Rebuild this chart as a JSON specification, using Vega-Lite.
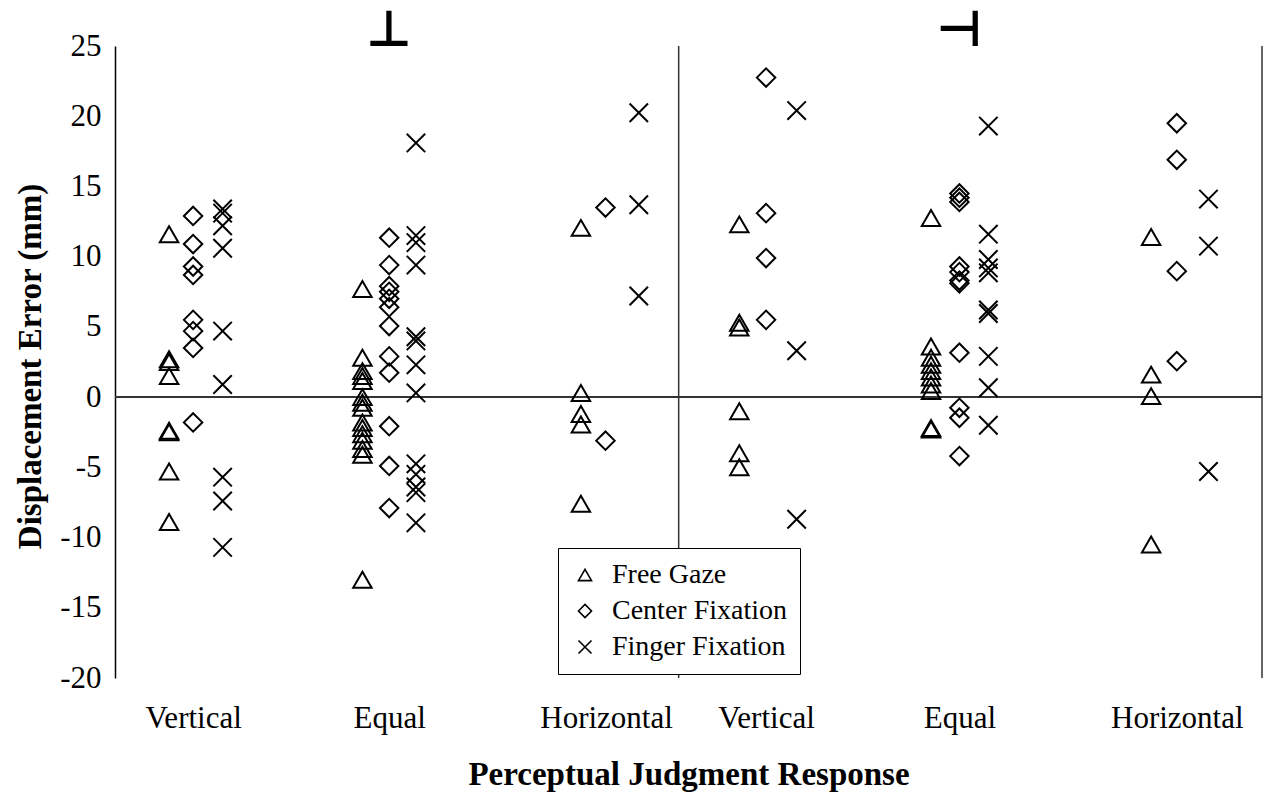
{
  "$schema": "https://vega.github.io/schema/vega-lite/v6.json",
  "width": 1147,
  "height": 632,
  "autosize": {"type": "none"},
  "padding": {"left": 115, "top": 46, "right": 2, "bottom": 118},
  "background": "white",
  "config": {
    "font": "Liberation Serif",
    "view": {"stroke": null},
    "legend": {
      "orient": "none",
      "legendX": 443,
      "legendY": 502,
      "strokeColor": "black",
      "fillColor": "white",
      "padding": 13,
      "labelFont": "Liberation Serif",
      "labelFontSize": 28,
      "labelColor": "black",
      "labelOffset": 13,
      "labelLimit": 0,
      "symbolSize": 170,
      "symbolStrokeWidth": 1.6,
      "symbolStrokeColor": "black",
      "rowPadding": 8
    }
  },
  "datasets": {
    "points": [
      {"gaze": "Free Gaze", "x": 0.99, "error": 11.6},
      {"gaze": "Free Gaze", "x": 0.99, "error": 2.7},
      {"gaze": "Free Gaze", "x": 0.99, "error": 2.5},
      {"gaze": "Free Gaze", "x": 0.99, "error": 1.5},
      {"gaze": "Free Gaze", "x": 0.99, "error": -2.4},
      {"gaze": "Free Gaze", "x": 0.99, "error": -2.5},
      {"gaze": "Free Gaze", "x": 0.99, "error": -5.3},
      {"gaze": "Free Gaze", "x": 0.99, "error": -8.9},
      {"gaze": "Free Gaze", "x": 4.53, "error": 7.7},
      {"gaze": "Free Gaze", "x": 4.53, "error": 2.8},
      {"gaze": "Free Gaze", "x": 4.53, "error": 1.85},
      {"gaze": "Free Gaze", "x": 4.53, "error": 1.5},
      {"gaze": "Free Gaze", "x": 4.53, "error": 1.15},
      {"gaze": "Free Gaze", "x": 4.53, "error": 0.0},
      {"gaze": "Free Gaze", "x": 4.53, "error": -0.4},
      {"gaze": "Free Gaze", "x": 4.53, "error": -0.75},
      {"gaze": "Free Gaze", "x": 4.53, "error": -1.8},
      {"gaze": "Free Gaze", "x": 4.53, "error": -2.2},
      {"gaze": "Free Gaze", "x": 4.53, "error": -2.65},
      {"gaze": "Free Gaze", "x": 4.53, "error": -3.1},
      {"gaze": "Free Gaze", "x": 4.53, "error": -3.7},
      {"gaze": "Free Gaze", "x": 4.53, "error": -4.1},
      {"gaze": "Free Gaze", "x": 4.53, "error": -13.0},
      {"gaze": "Free Gaze", "x": 8.53, "error": 12.05},
      {"gaze": "Free Gaze", "x": 8.53, "error": 0.3},
      {"gaze": "Free Gaze", "x": 8.53, "error": -1.2},
      {"gaze": "Free Gaze", "x": 8.53, "error": -1.95},
      {"gaze": "Free Gaze", "x": 8.53, "error": -7.6},
      {"gaze": "Free Gaze", "x": 11.43, "error": 12.3},
      {"gaze": "Free Gaze", "x": 11.43, "error": 5.3},
      {"gaze": "Free Gaze", "x": 11.43, "error": 4.95},
      {"gaze": "Free Gaze", "x": 11.43, "error": -1.0},
      {"gaze": "Free Gaze", "x": 11.43, "error": -4.0},
      {"gaze": "Free Gaze", "x": 11.43, "error": -5.0},
      {"gaze": "Free Gaze", "x": 14.94, "error": 12.75},
      {"gaze": "Free Gaze", "x": 14.94, "error": 3.6},
      {"gaze": "Free Gaze", "x": 14.94, "error": 2.8},
      {"gaze": "Free Gaze", "x": 14.94, "error": 2.3},
      {"gaze": "Free Gaze", "x": 14.94, "error": 1.85},
      {"gaze": "Free Gaze", "x": 14.94, "error": 1.4},
      {"gaze": "Free Gaze", "x": 14.94, "error": 0.9},
      {"gaze": "Free Gaze", "x": 14.94, "error": 0.43},
      {"gaze": "Free Gaze", "x": 14.94, "error": -2.2},
      {"gaze": "Free Gaze", "x": 14.94, "error": -2.3},
      {"gaze": "Free Gaze", "x": 18.97, "error": 11.4},
      {"gaze": "Free Gaze", "x": 18.97, "error": 1.6},
      {"gaze": "Free Gaze", "x": 18.97, "error": 0.07},
      {"gaze": "Free Gaze", "x": 18.97, "error": -10.5},

      {"gaze": "Center Fixation", "x": 1.43, "error": 12.9},
      {"gaze": "Center Fixation", "x": 1.43, "error": 10.9},
      {"gaze": "Center Fixation", "x": 1.43, "error": 9.3},
      {"gaze": "Center Fixation", "x": 1.43, "error": 8.7},
      {"gaze": "Center Fixation", "x": 1.43, "error": 5.5},
      {"gaze": "Center Fixation", "x": 1.43, "error": 4.7},
      {"gaze": "Center Fixation", "x": 1.43, "error": 3.5},
      {"gaze": "Center Fixation", "x": 1.43, "error": -1.8},
      {"gaze": "Center Fixation", "x": 5.02, "error": 11.35},
      {"gaze": "Center Fixation", "x": 5.02, "error": 9.4},
      {"gaze": "Center Fixation", "x": 5.02, "error": 7.9},
      {"gaze": "Center Fixation", "x": 5.02, "error": 7.5},
      {"gaze": "Center Fixation", "x": 5.02, "error": 7.0},
      {"gaze": "Center Fixation", "x": 5.02, "error": 6.4},
      {"gaze": "Center Fixation", "x": 5.02, "error": 5.06},
      {"gaze": "Center Fixation", "x": 5.02, "error": 2.9},
      {"gaze": "Center Fixation", "x": 5.02, "error": 1.74},
      {"gaze": "Center Fixation", "x": 5.02, "error": -2.07},
      {"gaze": "Center Fixation", "x": 5.02, "error": -4.9},
      {"gaze": "Center Fixation", "x": 5.02, "error": -7.9},
      {"gaze": "Center Fixation", "x": 8.98, "error": 13.5},
      {"gaze": "Center Fixation", "x": 8.98, "error": -3.1},
      {"gaze": "Center Fixation", "x": 11.92, "error": 22.75},
      {"gaze": "Center Fixation", "x": 11.92, "error": 13.1},
      {"gaze": "Center Fixation", "x": 11.92, "error": 9.9},
      {"gaze": "Center Fixation", "x": 11.92, "error": 5.5},
      {"gaze": "Center Fixation", "x": 15.46, "error": 14.5},
      {"gaze": "Center Fixation", "x": 15.46, "error": 14.2},
      {"gaze": "Center Fixation", "x": 15.46, "error": 13.9},
      {"gaze": "Center Fixation", "x": 15.46, "error": 9.3},
      {"gaze": "Center Fixation", "x": 15.46, "error": 8.9},
      {"gaze": "Center Fixation", "x": 15.46, "error": 8.3},
      {"gaze": "Center Fixation", "x": 15.46, "error": 8.1},
      {"gaze": "Center Fixation", "x": 15.46, "error": 3.16},
      {"gaze": "Center Fixation", "x": 15.46, "error": -0.76},
      {"gaze": "Center Fixation", "x": 15.46, "error": -1.47},
      {"gaze": "Center Fixation", "x": 15.46, "error": -4.2},
      {"gaze": "Center Fixation", "x": 19.44, "error": 19.5},
      {"gaze": "Center Fixation", "x": 19.44, "error": 16.9},
      {"gaze": "Center Fixation", "x": 19.44, "error": 8.97},
      {"gaze": "Center Fixation", "x": 19.44, "error": 2.56},

      {"gaze": "Finger Fixation", "x": 1.97, "error": 13.4},
      {"gaze": "Finger Fixation", "x": 1.97, "error": 13.1},
      {"gaze": "Finger Fixation", "x": 1.97, "error": 12.2},
      {"gaze": "Finger Fixation", "x": 1.97, "error": 10.6},
      {"gaze": "Finger Fixation", "x": 1.97, "error": 4.7},
      {"gaze": "Finger Fixation", "x": 1.97, "error": 0.9},
      {"gaze": "Finger Fixation", "x": 1.97, "error": -5.7},
      {"gaze": "Finger Fixation", "x": 1.97, "error": -7.4},
      {"gaze": "Finger Fixation", "x": 1.97, "error": -10.7},
      {"gaze": "Finger Fixation", "x": 5.51, "error": 18.1},
      {"gaze": "Finger Fixation", "x": 5.51, "error": 11.5},
      {"gaze": "Finger Fixation", "x": 5.51, "error": 11.0},
      {"gaze": "Finger Fixation", "x": 5.51, "error": 9.4},
      {"gaze": "Finger Fixation", "x": 5.51, "error": 4.3},
      {"gaze": "Finger Fixation", "x": 5.51, "error": 4.0},
      {"gaze": "Finger Fixation", "x": 5.51, "error": 2.3},
      {"gaze": "Finger Fixation", "x": 5.51, "error": 0.3},
      {"gaze": "Finger Fixation", "x": 5.51, "error": -4.75},
      {"gaze": "Finger Fixation", "x": 5.51, "error": -5.5},
      {"gaze": "Finger Fixation", "x": 5.51, "error": -6.4},
      {"gaze": "Finger Fixation", "x": 5.51, "error": -6.8},
      {"gaze": "Finger Fixation", "x": 5.51, "error": -8.95},
      {"gaze": "Finger Fixation", "x": 9.59, "error": 20.25},
      {"gaze": "Finger Fixation", "x": 9.59, "error": 13.7},
      {"gaze": "Finger Fixation", "x": 9.59, "error": 7.2},
      {"gaze": "Finger Fixation", "x": 12.48, "error": 20.4},
      {"gaze": "Finger Fixation", "x": 12.48, "error": 3.3},
      {"gaze": "Finger Fixation", "x": 12.48, "error": -8.7},
      {"gaze": "Finger Fixation", "x": 15.99, "error": 19.3},
      {"gaze": "Finger Fixation", "x": 15.99, "error": 11.6},
      {"gaze": "Finger Fixation", "x": 15.99, "error": 9.8},
      {"gaze": "Finger Fixation", "x": 15.99, "error": 9.2},
      {"gaze": "Finger Fixation", "x": 15.99, "error": 8.85},
      {"gaze": "Finger Fixation", "x": 15.99, "error": 6.2},
      {"gaze": "Finger Fixation", "x": 15.99, "error": 5.95},
      {"gaze": "Finger Fixation", "x": 15.99, "error": 2.9},
      {"gaze": "Finger Fixation", "x": 15.99, "error": 0.67},
      {"gaze": "Finger Fixation", "x": 15.99, "error": -2.0},
      {"gaze": "Finger Fixation", "x": 20.02, "error": 14.1},
      {"gaze": "Finger Fixation", "x": 20.02, "error": 10.75},
      {"gaze": "Finger Fixation", "x": 20.02, "error": -5.3}
    ],
    "markers": [
      {"x": 5.02, "error": 25, "symbol": "⊥"},
      {"x": 15.46, "error": 25, "symbol": "⊣"}
    ],
    "zero": [{"error": 0}],
    "vlines": [{"x": 10.32}, {"x": 21}]
  },
  "layer": [
    {
      "data": {"name": "zero"},
      "mark": {"type": "rule", "color": "#333333", "strokeWidth": 2},
      "encoding": {
        "y": {"field": "error", "type": "quantitative", "scale": {"domain": [-20, 25], "nice": false}}
      }
    },
    {
      "data": {"name": "vlines"},
      "mark": {"type": "rule", "color": "#333333", "strokeWidth": 1.5},
      "encoding": {
        "x": {"field": "x", "type": "quantitative", "scale": {"domain": [0, 21], "nice": false, "zero": false}}
      }
    },
    {
      "data": {"name": "points"},
      "mark": {"type": "point", "filled": false, "color": "black", "strokeWidth": 2, "size": 340, "opacity": 1},
      "encoding": {
        "x": {
          "field": "x", "type": "quantitative",
          "scale": {"domain": [0, 21], "nice": false, "zero": false},
          "axis": {
            "values": [1.43, 5.02, 8.99, 11.92, 15.46, 19.44],
            "labelExpr": "datum.value < 3 ? 'Vertical' : datum.value < 7 ? 'Equal' : datum.value < 10.3 ? 'Horizontal' : datum.value < 13 ? 'Vertical' : datum.value < 17 ? 'Equal' : 'Horizontal'",
            "ticks": false, "domain": false, "grid": false,
            "labelFont": "Liberation Serif", "labelFontSize": 31, "labelColor": "black",
            "labelPadding": 25, "labelOverlap": false,
            "title": "Perceptual Judgment Response",
            "titleFont": "Liberation Serif", "titleFontSize": 33, "titleFontWeight": "bold", "titleColor": "black",
            "titleX": 573.5, "titleY": 106, "titleBaseline": "alphabetic", "titleAlign": "center"
          }
        },
        "y": {
          "field": "error", "type": "quantitative",
          "scale": {"domain": [-20, 25], "nice": false},
          "axis": {
            "values": [-20, -15, -10, -5, 0, 5, 10, 15, 20, 25],
            "labelExpr": "datum.value < 0 ? '-' + abs(datum.value) : '' + datum.value",
            "ticks": false, "grid": false,
            "domainColor": "black", "domainWidth": 1.5,
            "labelFont": "Liberation Serif", "labelFontSize": 31, "labelColor": "black",
            "labelPadding": 14,
            "title": "Displacement Error (mm)",
            "titleFont": "Liberation Serif", "titleFontSize": 33, "titleFontWeight": "bold", "titleColor": "black",
            "titleX": -85, "titleY": 320, "titleBaseline": "middle", "titleAlign": "center", "titleAngle": -90
          }
        },
        "shape": {
          "field": "gaze", "type": "nominal",
          "scale": {
            "domain": ["Free Gaze", "Center Fixation", "Finger Fixation"],
            "range": ["triangle-up", "diamond", "M-1,-1L1,1M-1,1L1,-1"]
          },
          "legend": {
            "title": null,
            "encode": {"legend": {"update": {"strokeWidth": {"value": 1.5}}}}
          }
        }
      }
    },
    {
      "data": {"name": "markers"},
      "mark": {"type": "text", "font": "DejaVu Sans", "fontSize": 50, "fontWeight": "bold", "color": "black", "baseline": "alphabetic", "align": "center"},
      "encoding": {
        "x": {"field": "x", "type": "quantitative"},
        "y": {"field": "error", "type": "quantitative"},
        "text": {"field": "symbol", "type": "nominal"}
      }
    }
  ]
}
